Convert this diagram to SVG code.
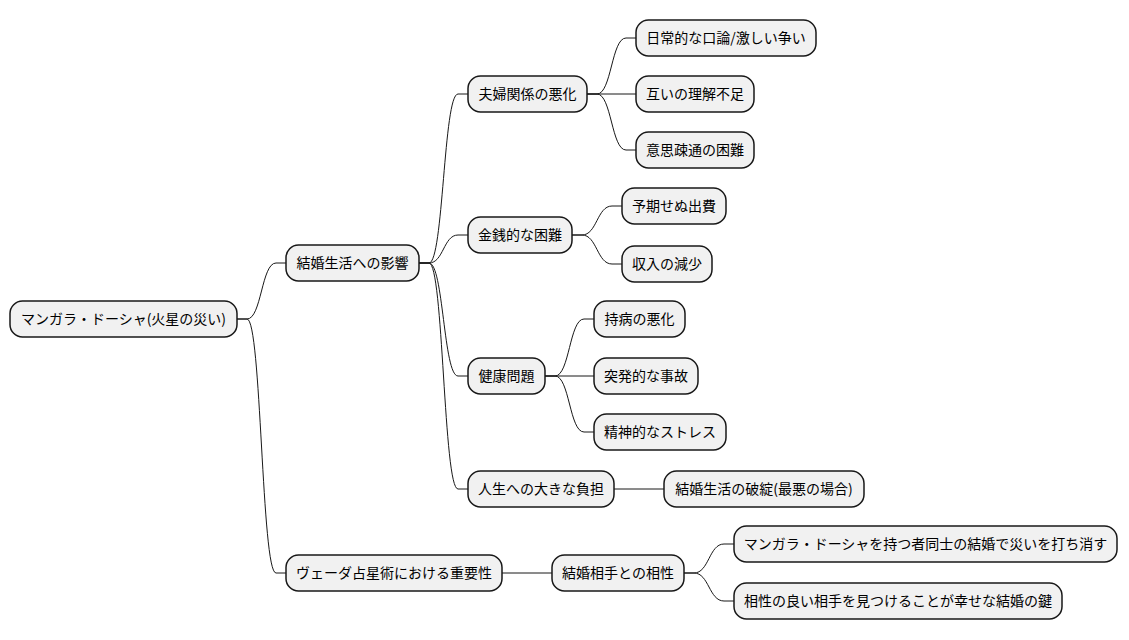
<svg xmlns="http://www.w3.org/2000/svg" width="1129" height="640" viewBox="0 0 1129 640">
<style>
.n rect{fill:#F1F1F1;stroke:#181818;stroke-width:1.5}
.n text{font-family:"Noto Sans CJK JP","Liberation Sans",sans-serif;font-size:14px;fill:#000;text-anchor:middle}
.c path{fill:none;stroke:#181818;stroke-width:1}
</style>
<rect width="1129" height="640" fill="#FFFFFF"/>
<g class="c">
<path d="M237 319 H247 C261.5 319 261.5 263 276 263 H286"/>
<path d="M237 319 H247 C261.5 319 261.5 573 276 573 H286"/>
<path d="M419 263 H429 C443.5 263 443.5 94 458 94 H468"/>
<path d="M419 263 H429 C443.5 263 443.5 235 458 235 H468"/>
<path d="M419 263 H429 C443.5 263 443.5 376 458 376 H468"/>
<path d="M419 263 H429 C443.5 263 443.5 489 458 489 H468"/>
<path d="M587 94 H597 C611.5 94 611.5 38 626 38 H636"/>
<path d="M587 94 H636"/>
<path d="M587 94 H597 C611.5 94 611.5 150 626 150 H636"/>
<path d="M572 235 H582 C597 235 597 206 612 206 H622"/>
<path d="M572 235 H582 C597 235 597 264 612 264 H622"/>
<path d="M545 376 H555 C569.5 376 569.5 319 584 319 H594"/>
<path d="M545 376 H594"/>
<path d="M545 376 H555 C569.5 376 569.5 432 584 432 H594"/>
<path d="M614 489 H664"/>
<path d="M502 573 H552"/>
<path d="M684 573 H694 C709 573 709 544 724 544 H734"/>
<path d="M684 573 H694 C709 573 709 601 724 601 H734"/>
</g>
<g id="root" class="n"><rect x="10" y="301" width="227" height="36" rx="12.5"/><text x="123.5" y="324">マンガラ・ドーシャ(火星の災い)</text></g>
<g id="n1" class="n"><rect x="286" y="245" width="133" height="36" rx="12.5"/><text x="352.5" y="268">結婚生活への影響</text></g>
<g id="n11" class="n"><rect x="468" y="76" width="119" height="36" rx="12.5"/><text x="527.5" y="99">夫婦関係の悪化</text></g>
<g id="n111" class="n"><rect x="636" y="20" width="180" height="36" rx="12.5"/><text x="726" y="43">日常的な口論/激しい争い</text></g>
<g id="n112" class="n"><rect x="636" y="76" width="118" height="36" rx="12.5"/><text x="695" y="99">互いの理解不足</text></g>
<g id="n113" class="n"><rect x="636" y="132" width="118" height="36" rx="12.5"/><text x="695" y="155">意思疎通の困難</text></g>
<g id="n12" class="n"><rect x="468" y="217" width="104" height="36" rx="12.5"/><text x="520" y="240">金銭的な困難</text></g>
<g id="n121" class="n"><rect x="622" y="188" width="104" height="36" rx="12.5"/><text x="674" y="211">予期せぬ出費</text></g>
<g id="n122" class="n"><rect x="622" y="246" width="90" height="36" rx="12.5"/><text x="667" y="269">収入の減少</text></g>
<g id="n13" class="n"><rect x="468" y="358" width="77" height="36" rx="12.5"/><text x="506.5" y="381">健康問題</text></g>
<g id="n131" class="n"><rect x="594" y="301" width="91" height="36" rx="12.5"/><text x="639.5" y="324">持病の悪化</text></g>
<g id="n132" class="n"><rect x="594" y="358" width="104" height="36" rx="12.5"/><text x="646" y="381">突発的な事故</text></g>
<g id="n133" class="n"><rect x="594" y="414" width="132" height="36" rx="12.5"/><text x="660" y="437">精神的なストレス</text></g>
<g id="n14" class="n"><rect x="468" y="471" width="146" height="36" rx="12.5"/><text x="541" y="494">人生への大きな負担</text></g>
<g id="n141" class="n"><rect x="664" y="471" width="200" height="36" rx="12.5"/><text x="764" y="494">結婚生活の破綻(最悪の場合)</text></g>
<g id="n2" class="n"><rect x="286" y="555" width="216" height="36" rx="12.5"/><text x="394" y="578">ヴェーダ占星術における重要性</text></g>
<g id="n21" class="n"><rect x="552" y="555" width="132" height="36" rx="12.5"/><text x="618" y="578">結婚相手との相性</text></g>
<g id="n211" class="n"><rect x="734" y="526" width="383" height="36" rx="12.5"/><text x="925.5" y="549">マンガラ・ドーシャを持つ者同士の結婚で災いを打ち消す</text></g>
<g id="n212" class="n"><rect x="734" y="583" width="328" height="36" rx="12.5"/><text x="898" y="606">相性の良い相手を見つけることが幸せな結婚の鍵</text></g>
</svg>
